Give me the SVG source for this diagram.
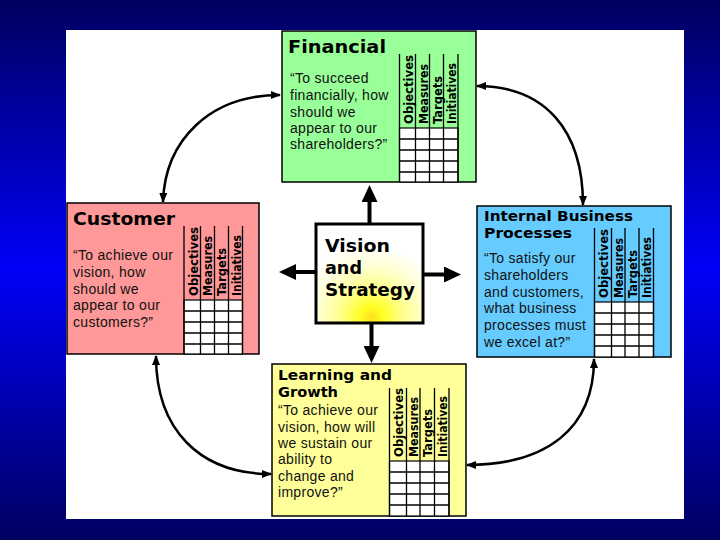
<svg xmlns="http://www.w3.org/2000/svg" width="720" height="540" viewBox="0 0 720 540">
<defs>
  <linearGradient id="bg" x1="0" y1="0" x2="0" y2="1">
    <stop offset="0" stop-color="#000060"/>
    <stop offset="0.5" stop-color="#0000f8"/>
    <stop offset="1" stop-color="#000060"/>
  </linearGradient>
  <radialGradient id="glow" cx="0.52" cy="0.9" r="0.7" fx="0.52" fy="0.95">
    <stop offset="0" stop-color="#ffdd22"/>
    <stop offset="0.15" stop-color="#ffff22"/>
    <stop offset="0.4" stop-color="#ffff88"/>
    <stop offset="0.75" stop-color="#ffffdd"/>
    <stop offset="1" stop-color="#ffffff"/>
  </radialGradient>
  <marker id="ah" viewBox="0 0 10 8" refX="9" refY="4" markerWidth="10" markerHeight="8" markerUnits="userSpaceOnUse" orient="auto-start-reverse">
    <path d="M0,0 L10,4 L0,8 z" fill="#000"/>
  </marker>
  <marker id="big" viewBox="0 0 17 16" refX="0" refY="8" markerWidth="17" markerHeight="16" markerUnits="userSpaceOnUse" orient="auto">
    <path d="M0,0 L17,8 L0,16 z" fill="#000"/>
  </marker>
</defs>
<style>
  .box { stroke:#000; stroke-width:1.5; }
  .grid { fill:#fff; stroke:#000; stroke-width:1.2; }
  .gl { stroke:#000; stroke-width:1.3; fill:none; }
  .title { font-family:"DejaVu Sans", "Liberation Sans", Arial, sans-serif; font-weight:bold; fill:#000; }
  .quote { font-family:"Liberation Sans", Arial, sans-serif; font-size:14px; fill:#111; letter-spacing:0.3px; }
  .hdr { font-family:"DejaVu Sans", "Liberation Sans", Arial, sans-serif; font-size:12px; font-weight:bold; fill:#000; }
  .curve { fill:none; stroke:#000; stroke-width:2.5; marker-start:url(#ah); marker-end:url(#ah); }
  .shaft { stroke:#000; stroke-width:4; marker-end:url(#big); }
</style>

<rect x="0" y="0" width="720" height="540" fill="url(#bg)"/>
<rect x="66" y="30" width="618" height="489" fill="#fff"/>

<g id="connectors">
  <path class="curve" d="M163,202 C165,140 210,95 280,95"/>
  <path class="curve" d="M477,86 C545,86 583,130 583,205"/>
  <path class="curve" d="M594,359 C594,430 545,465 467,465"/>
  <path class="curve" d="M156,356 C156,430 200,474 271,474"/>
  <line class="shaft" x1="369.5" y1="224" x2="369.5" y2="202"/>
  <line class="shaft" x1="316" y1="272" x2="296" y2="272"/>
  <line class="shaft" x1="423" y1="274.5" x2="444" y2="274.5"/>
  <line class="shaft" x1="371.5" y1="323" x2="371.5" y2="346"/>
</g>

<g id="financial">
  <rect class="box" x="282" y="31" width="194" height="151" fill="#99ff99"/>
  <text class="title" x="288" y="53" font-size="18.5" textLength="98" lengthAdjust="spacingAndGlyphs">Financial</text>
  <text class="quote" x="290" y="83">“To succeed</text>
  <text class="quote" x="290" y="100">financially, how</text>
  <text class="quote" x="290" y="117">should we</text>
  <text class="quote" x="290" y="133">appear to our</text>
  <text class="quote" x="290" y="149">shareholders?”</text>
  <rect class="grid" x="399.5" y="128" width="58.5" height="54"/>
  <path class="gl" d="M399.5,54V182 M415.5,54V182 M429.5,54V182 M443.5,54V182 M458,54V182 M399.5,139H458 M399.5,150H458 M399.5,161H458 M399.5,172H458"/>
  <text class="hdr" transform="translate(413,124) rotate(-90)" textLength="69" lengthAdjust="spacingAndGlyphs">Objectives</text>
  <text class="hdr" transform="translate(427.5,124) rotate(-90)" textLength="60" lengthAdjust="spacingAndGlyphs">Measures</text>
  <text class="hdr" transform="translate(441.5,124) rotate(-90)" textLength="48" lengthAdjust="spacingAndGlyphs">Targets</text>
  <text class="hdr" transform="translate(456,124) rotate(-90)" textLength="61" lengthAdjust="spacingAndGlyphs">Initiatives</text>
</g>

<g id="customer">
  <rect class="box" x="67" y="203" width="192" height="151" fill="#ff9999"/>
  <text class="title" x="73" y="225" font-size="18.5" textLength="102" lengthAdjust="spacingAndGlyphs">Customer</text>
  <text class="quote" x="73" y="260">“To achieve our</text>
  <text class="quote" x="73" y="277">vision, how</text>
  <text class="quote" x="73" y="294">should we</text>
  <text class="quote" x="73" y="310">appear to our</text>
  <text class="quote" x="73" y="327">customers?”</text>
  <rect class="grid" x="184" y="300" width="58.5" height="54"/>
  <path class="gl" d="M184,226V354 M200.5,226V354 M214.5,226V354 M228.5,226V354 M242.5,226V354 M184,311H242.5 M184,322H242.5 M184,333H242.5 M184,344H242.5"/>
  <text class="hdr" transform="translate(197.5,296) rotate(-90)" textLength="69" lengthAdjust="spacingAndGlyphs">Objectives</text>
  <text class="hdr" transform="translate(212,296) rotate(-90)" textLength="60" lengthAdjust="spacingAndGlyphs">Measures</text>
  <text class="hdr" transform="translate(226,296) rotate(-90)" textLength="48" lengthAdjust="spacingAndGlyphs">Targets</text>
  <text class="hdr" transform="translate(240.5,296) rotate(-90)" textLength="61" lengthAdjust="spacingAndGlyphs">Initiatives</text>
</g>

<g id="internal">
  <rect class="box" x="477" y="206" width="194" height="151" fill="#66ccff"/>
  <text class="title" x="484" y="221" font-size="14" textLength="149" lengthAdjust="spacingAndGlyphs">Internal Business</text>
  <text class="title" x="484" y="238" font-size="14" textLength="88" lengthAdjust="spacingAndGlyphs">Processes</text>
  <text class="quote" x="484" y="263">“To satisfy our</text>
  <text class="quote" x="484" y="280">shareholders</text>
  <text class="quote" x="484" y="297">and customers,</text>
  <text class="quote" x="484" y="313">what business</text>
  <text class="quote" x="484" y="330">processes must</text>
  <text class="quote" x="484" y="347">we excel at?”</text>
  <rect class="grid" x="594.5" y="302" width="59" height="55"/>
  <path class="gl" d="M594.5,228V357 M611.5,228V357 M625,228V357 M639,228V357 M653.5,228V357 M594.5,313H653.5 M594.5,324H653.5 M594.5,335H653.5 M594.5,346H653.5"/>
  <text class="hdr" transform="translate(608,298) rotate(-90)" textLength="69" lengthAdjust="spacingAndGlyphs">Objectives</text>
  <text class="hdr" transform="translate(623,298) rotate(-90)" textLength="60" lengthAdjust="spacingAndGlyphs">Measures</text>
  <text class="hdr" transform="translate(636.5,298) rotate(-90)" textLength="48" lengthAdjust="spacingAndGlyphs">Targets</text>
  <text class="hdr" transform="translate(651,298) rotate(-90)" textLength="61" lengthAdjust="spacingAndGlyphs">Initiatives</text>
</g>

<g id="learning">
  <rect class="box" x="272" y="364" width="194" height="152" fill="#ffff99"/>
  <text class="title" x="278" y="380" font-size="14" textLength="114" lengthAdjust="spacingAndGlyphs">Learning and</text>
  <text class="title" x="278" y="397" font-size="14" textLength="60" lengthAdjust="spacingAndGlyphs">Growth</text>
  <text class="quote" x="278" y="415">“To achieve our</text>
  <text class="quote" x="278" y="432">vision, how will</text>
  <text class="quote" x="278" y="448">we sustain our</text>
  <text class="quote" x="278" y="464">ability to</text>
  <text class="quote" x="278" y="481">change and</text>
  <text class="quote" x="278" y="497">improve?”</text>
  <rect class="grid" x="389.5" y="461" width="59.5" height="55"/>
  <path class="gl" d="M389.5,388V516 M406.5,388V516 M420,388V516 M434.5,388V516 M449,388V516 M389.5,472H449 M389.5,483H449 M389.5,494H449 M389.5,505H449"/>
  <text class="hdr" transform="translate(403,457) rotate(-90)" textLength="69" lengthAdjust="spacingAndGlyphs">Objectives</text>
  <text class="hdr" transform="translate(418,457) rotate(-90)" textLength="60" lengthAdjust="spacingAndGlyphs">Measures</text>
  <text class="hdr" transform="translate(431.5,457) rotate(-90)" textLength="48" lengthAdjust="spacingAndGlyphs">Targets</text>
  <text class="hdr" transform="translate(446.5,457) rotate(-90)" textLength="61" lengthAdjust="spacingAndGlyphs">Initiatives</text>
</g>

<g id="vision">
  <rect x="316" y="224" width="107" height="99" fill="url(#glow)" stroke="#000" stroke-width="3"/>
  <text class="title" x="325" y="252" font-size="18.5" textLength="65" lengthAdjust="spacingAndGlyphs">Vision</text>
  <text class="title" x="325" y="274" font-size="18.5" textLength="37" lengthAdjust="spacingAndGlyphs">and</text>
  <text class="title" x="325" y="296" font-size="18.5" textLength="90" lengthAdjust="spacingAndGlyphs">Strategy</text>
</g>
</svg>
